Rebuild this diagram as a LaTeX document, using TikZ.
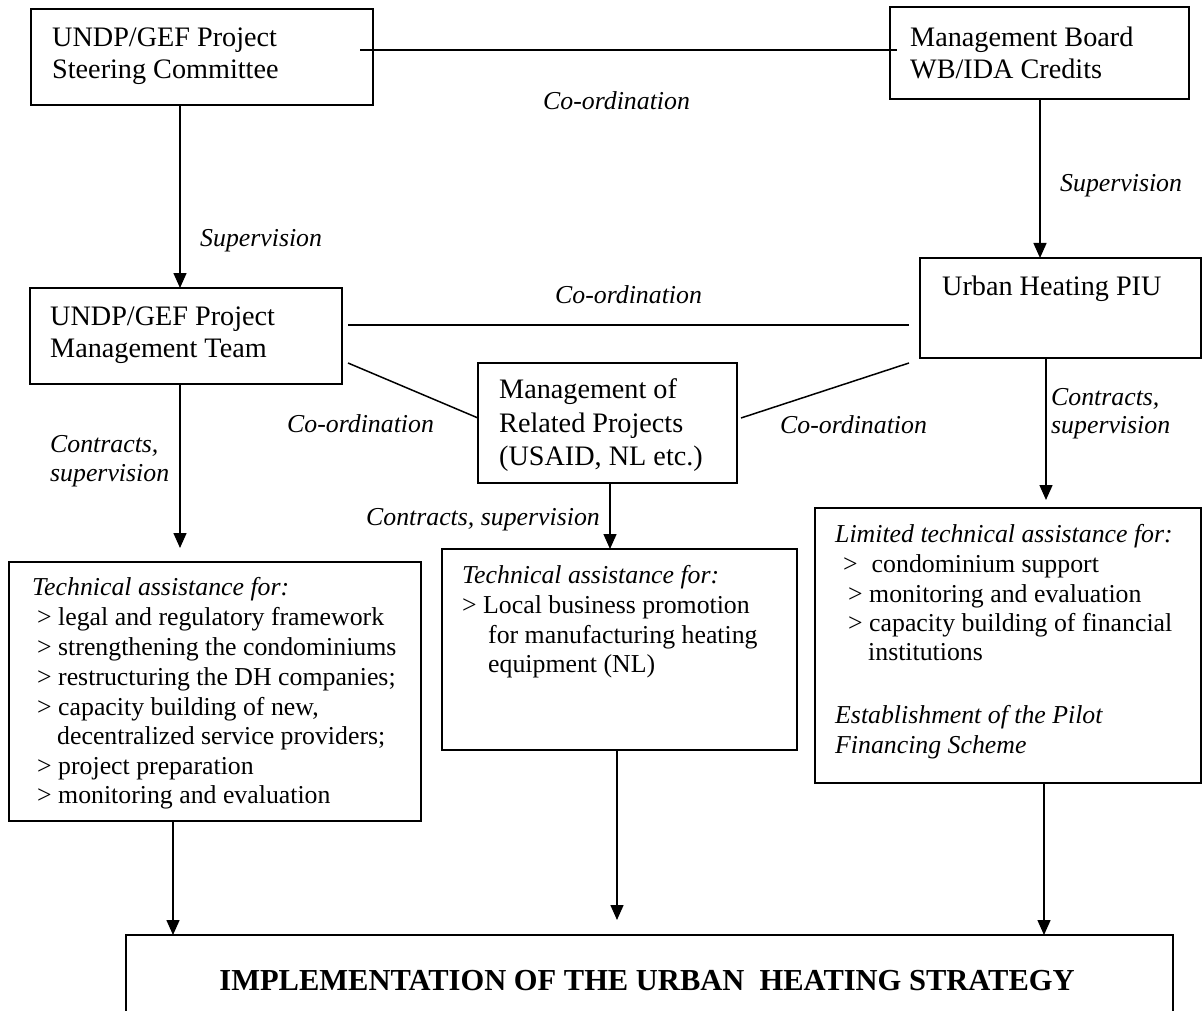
\documentclass[tikz,border=0pt]{standalone}
\usepackage{fontspec}
\setmainfont{Liberation Serif}
\usetikzlibrary{arrows.meta,calc}
\tikzset{
  box/.style={draw, line width=1.8pt, inner sep=0pt, outer sep=0pt, anchor=north west, rectangle},
  ln/.style={line width=1.5pt},
  arr/.style={line width=1.5pt, -{Triangle[length=15pt,width=13pt]}},
  bt/.style={anchor=base west, inner sep=0pt, font=\fontsize{28.2}{32}\selectfont},
  tt/.style={anchor=base west, inner sep=0pt, font=\fontsize{25.8}{30}\selectfont},
  it/.style={anchor=base west, inner sep=0pt, font=\fontsize{25.8}{30}\selectfont\itshape},
}
\begin{document}
\begin{tikzpicture}[x=1pt,y=-1pt]
\useasboundingbox (0,0) rectangle (1202,1011);
% boxes
\node[box, minimum width=342, minimum height=96] (sc) at (31,9) {};
\node[box, minimum width=299, minimum height=92] (mb) at (890,7) {};
\node[box, minimum width=312, minimum height=96] (mt) at (30,288) {};
\node[box, minimum width=281, minimum height=100] (piu) at (920,258) {};
\node[box, minimum width=259, minimum height=120] (rp) at (478,363) {};
\node[box, minimum width=412, minimum height=259] (tal) at (9,562) {};
\node[box, minimum width=355, minimum height=201] (tam) at (442,549) {};
\node[box, minimum width=386, minimum height=275] (tar) at (815,508) {};
\node[box, draw=none, minimum width=1047, minimum height=100] (impl) at (126,935) {};
\draw[line width=1.8pt] (impl.south west) -- (impl.north west) -- (impl.north east) -- (impl.south east);

% box texts
\node[bt] (sc1) at (52,47) {UNDP/GEF Project};
\node[bt] (sc2) at (52,79) {Steering Committee};
\node[bt] (mb1) at (910,47) {Management Board};
\node[bt] (mb2) at (910,79) {WB/IDA Credits};
\node[bt] (mt1) at (50,325) {UNDP/GEF Project};
\node[bt] (mt2) at (50,357) {Management Team};
\node[bt] (piu1) at (942,295) {Urban Heating PIU};
\node[bt] (rp1) at (499,398) {Management of};
\node[bt] (rp2) at (499,432) {Related Projects};
\node[bt] (rp3) at (499,465) {(USAID, NL etc.)};

\node[it] (tl0) at (32,595) {Technical assistance for:};
\node[tt] (tl1) at (37,625) {> legal and regulatory framework};
\node[tt] (tl2) at (37,655) {> strengthening the condominiums};
\node[tt] (tl3) at (37,685) {> restructuring the DH companies;};
\node[tt] (tl4) at (37,715) {> capacity building of new,};
\node[tt] (tl5) at (57,744) {decentralized service providers;};
\node[tt] (tl6) at (37,774) {> project preparation};
\node[tt] (tl7) at (37,803) {> monitoring and evaluation};

\node[it] (tm0) at (462,583) {Technical assistance for:};
\node[tt] (tm1) at (462,613) {> Local business promotion};
\node[tt] (tm2) at (488,643) {for manufacturing heating};
\node[tt] (tm3) at (488,672) {equipment (NL)};

\node[it] (tr0) at (835,542) {Limited technical assistance for:};
\node[tt] (tr1) at (843,572) {>\hspace{14pt}condominium support};
\node[tt] (tr2) at (848,602) {> monitoring and evaluation};
\node[tt] (tr3) at (848,631) {> capacity building of financial};
\node[tt] (tr4) at (868,660) {institutions};
\node[it] (tr5) at (835,723) {Establishment of the Pilot};
\node[it] (tr6) at (835,753) {Financing Scheme};

\node[anchor=base, inner sep=0pt, font=\fontsize{30.5}{34}\selectfont\bfseries] (implt) at (647,990) {IMPLEMENTATION OF THE URBAN\ \ HEATING STRATEGY};

% connector coordinates
\coordinate (c1) at (360,50);
\coordinate (c2) at (897,50);
\coordinate (m1) at (348,325);
\coordinate (m2) at (909,325);
\coordinate (d1) at (348,363);
\coordinate (d2) at (909,363);
\coordinate (a1) at (180,0);
\coordinate (a2) at (1040,0);
\coordinate (a3) at (610,0);
\coordinate (a4) at (1046,0);
\coordinate (b1) at (173,0);
\coordinate (b2) at (617,0);
\coordinate (b3) at (1044,0);
\coordinate (e1) at (180,548);
\coordinate (e4) at (1046,500);
\coordinate (e5) at (617,920);

% connectors
\draw[ln] (c1) -- (c2);
\draw[ln] (m1) -- (m2);
\draw[ln] (d1) -- ([yshift=5pt]rp.west);
\draw[ln] ([yshift=5pt,xshift=4pt]rp.east) -- (d2);
\draw[arr] (sc.south -| a1) -- (mt.north -| a1);
\draw[arr] (mb.south -| a2) -- (piu.north -| a2);
\draw[arr] (mt.south -| a1) -- (e1);
\draw[arr] (rp.south -| a3) -- (tam.north -| a3);
\draw[arr] (piu.south -| a4) -- (e4);
\draw[arr] (tal.south -| b1) -- (impl.north -| b1);
\draw[arr] (tam.south -| b2) -- (e5);
\draw[arr] (tar.south -| b3) -- (impl.north -| b3);

% labels
\node[it] (l1) at (543,110) {Co-ordination};
\node[it] (l2) at (1060,192) {Supervision};
\node[it] (l3) at (200,247) {Supervision};
\node[it] (l4) at (555,303) {Co-ordination};
\node[it] (l5) at (287,432) {Co-ordination};
\node[it] (l6) at (780,433) {Co-ordination};
\node[it] (l7) at (50,452) {Contracts,};
\node[it] (l8) at (50,481) {supervision};
\node[it] (l9) at (1051,405) {Contracts,};
\node[it] (l10) at (1051,433) {supervision};
\node[it, anchor=base east] (l11) at (600,525) {Contracts, supervision};
\end{tikzpicture}
\end{document}
